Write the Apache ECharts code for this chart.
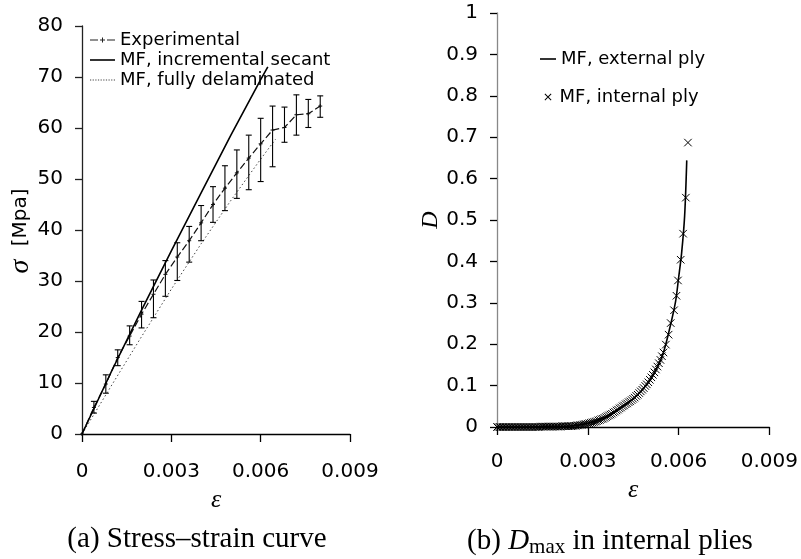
<!DOCTYPE html>
<html>
<head>
<meta charset="utf-8">
<script src="https://cdn.jsdelivr.net/npm/echarts@6/dist/echarts.min.js"></script>
<style>
html,body{margin:0;padding:0;background:#fff;}
#chart{width:801px;height:559px;}
</style>
</head>
<body>
<div id="chart"></div>
<script>
// ---- (a) Stress-strain data ----
const expStrain = [0,0.0004,0.0008,0.0012,0.0016,0.0020,0.0024,0.0028,0.0032,0.0036,0.0040,0.0044,0.0048,0.0052,0.0056,0.0060,0.0064,0.0068,0.0072,0.0076,0.0080];
const expStress = [0,5.2,9.8,15.0,19.2,23.5,27.4,31.3,34.7,37.9,41.4,45.0,48.2,51.2,54.1,56.9,59.6,60.1,62.6,62.8,64.3];
const expLow    = [0,4.1,8.0,13.4,17.5,20.8,22.8,27.0,30.1,33.7,37.9,41.5,43.8,46.2,47.9,49.5,52.4,57.2,58.6,60.1,62.1];
const expHigh   = [0,6.4,11.6,16.5,21.2,26.0,30.2,34.0,37.5,40.7,44.8,48.5,52.6,55.7,58.6,61.9,64.3,64.1,66.5,65.6,66.3];

const secStrain = [0,0.001,0.002,0.003,0.004,0.005,0.006,0.00624];
const secStress = [0,12.4,24.3,35.9,47.3,58.6,69.5,72.0];

const delStrain = [0,0.001,0.002,0.003,0.004,0.005,0.006,0.0065];
const delStress = [0,9.6,19.1,28.4,37.3,45.8,53.9,57.8];

// ---- (b) Damage data ----
const intStrain = [
  0,0.00005,0.0001,0.00015,0.0002,0.00025,0.0003,0.00035,0.0004,0.00045,
  0.0005,0.00055,0.0006,0.00065,0.0007,0.00075,0.0008,0.00085,0.0009,0.00095,
  0.0010,0.00105,0.0011,0.00115,0.0012,0.00125,0.0013,0.00135,0.0014,0.00145,
  0.0015,0.00155,0.0016,0.00165,0.0017,0.00175,0.0018,0.00185,0.0019,0.00195,
  0.0020,0.00205,0.0021,0.00215,0.0022,0.00225,0.0023,0.00235,0.0024,0.00245,
  0.0025,0.00255,0.0026,0.00265,0.0027,0.00275,0.0028,0.00285,0.0029,0.00295,
  0.0030,0.00305,0.0031,0.00315,0.0032,0.00325,0.0033,0.00335,0.0034,0.00345,
  0.0035,0.00355,0.0036,0.00365,0.0037,0.00375,0.0038,0.00385,0.0039,0.00395,
  0.0040,0.00405,0.0041,0.00415,0.0042,0.00425,0.0043,0.00435,0.0044,0.00445,
  0.0045,0.00455,0.0046,0.00465,0.0047,0.00475,0.0048,0.00485,0.0049,0.00495,
  0.0050,0.00505,0.0051,0.00515,0.0052,0.00525,0.0053,0.00535,0.0054,0.00545,
  0.0055,0.00558,0.00567,0.00574,0.00585,0.00593,0.00598,0.00607,0.00615,0.00624,0.00631];
const intDamage = [
  0,0,0,0,0,0,0,0,0,0,
  0,0,0,0,0,0,0,0,0,0,
  0,0,0,0,0,0,0,0,0,0.001,
  0.001,0.001,0.001,0.001,0.001,0.001,0.001,0.001,0.001,0.001,
  0.001,0.001,0.001,0.002,0.002,0.002,0.002,0.002,0.002,0.002,
  0.002,0.003,0.003,0.004,0.004,0.005,0.005,0.006,0.007,0.007,
  0.008,0.009,0.010,0.011,0.012,0.013,0.014,0.016,0.017,0.019,
  0.020,0.022,0.024,0.026,0.028,0.030,0.032,0.035,0.037,0.040,
  0.042,0.045,0.047,0.050,0.052,0.055,0.057,0.060,0.062,0.065,
  0.068,0.071,0.075,0.078,0.082,0.086,0.090,0.094,0.099,0.103,
  0.108,0.114,0.120,0.126,0.132,0.139,0.146,0.154,0.162,0.171,
  0.180,0.199,0.223,0.251,0.282,0.317,0.354,0.404,0.467,0.554,0.687];

const extStrain = [0,0.001,0.002,0.0025,0.003,0.0035,0.004,0.0045,0.005,0.0053,0.0055,0.0057,0.0059,0.0060,0.0061,0.0062,0.00627];
const extDamage = [0,0,0.001,0.003,0.009,0.021,0.042,0.068,0.107,0.145,0.180,0.236,0.303,0.36,0.42,0.51,0.644];

function zip(a,b){return a.map((v,i)=>[v,b[i]]);}
const fmtX = v => (Math.abs(v) < 1e-12 ? '0' : v.toFixed(3));

const sans = 'DejaVu Sans';
const chart = echarts.init(document.getElementById('chart'), null, {renderer:'canvas'});

const crossSym = 'path://M0,5L10,5M5,0L5,10';
const xSym = 'path://M0,0L10,10M10,0L0,10';

// legend icon shapes (drawn as thin filled rectangles)
const iconSolid25 = 'path://M0,0H25V1.6H0Z';
const iconSolid16 = 'path://M0,0H16V1.6H0Z';
const iconExp = 'path://M0,2H8V3H0Z M17,2H25V3H17Z M10,2H15V3H10Z M12,0H13V5H12Z';
const iconX = 'path://M0,0.7L0.7,0L7,6.3L6.3,7Z M6.3,0L7,0.7L0.7,7L0,6.3Z';
let dots = '';
for (let x = 0; x < 25; x += 2.6) { dots += 'M' + x.toFixed(2) + ',0H' + (x + 1.2).toFixed(2) + 'V1.2H' + x.toFixed(2) + 'Z '; }
const iconDot = 'path://' + dots;

const option = {
  backgroundColor:'#fff',
  animation:false,
  grid:[
    {left:82, top:26, width:268, height:408},
    {left:497, top:13, width:274, height:414}
  ],
  graphic:[
    {type:'text', x:21, y:231, rotation:Math.PI/2, silent:true,
     style:{text:'{s|σ}    {m|[Mpa]}', align:'center', verticalAlign:'middle',
       rich:{
         s:{fontFamily:'Liberation Serif', fontStyle:'italic', fontSize:28, fill:'#000'},
         m:{fontFamily:sans, fontSize:20, fill:'#000'}
       }}}
  ],
  xAxis:[
    {gridIndex:0, type:'value', min:0, max:0.009, interval:0.003,
     name:'ε', nameLocation:'middle', nameGap:50,
     nameTextStyle:{fontFamily:'Liberation Serif', fontStyle:'italic', fontSize:26, color:'#000'},
     axisLine:{lineStyle:{color:'#000', width:1.3}},
     axisTick:{length:8, lineStyle:{color:'#000', width:1.3}},
     axisLabel:{margin:28, color:'#000', fontFamily:sans, fontSize:20, formatter:fmtX},
     splitLine:{show:false}},
    {gridIndex:1, type:'value', min:0, max:0.009, interval:0.003,
     name:'ε', nameLocation:'middle', nameGap:43,
     nameTextStyle:{fontFamily:'Liberation Serif', fontStyle:'italic', fontSize:26, color:'#000'},
     axisLine:{lineStyle:{color:'#000', width:1.3}},
     axisTick:{length:8, lineStyle:{color:'#000', width:1.3}},
     axisLabel:{margin:25, color:'#000', fontFamily:sans, fontSize:20, formatter:fmtX},
     splitLine:{show:false}}
  ],
  yAxis:[
    {gridIndex:0, type:'value', min:0, max:80, interval:10,
     axisLine:{lineStyle:{color:'#222', width:1.3}},
     axisTick:{length:7, lineStyle:{color:'#222', width:1.3}},
     axisLabel:{margin:19, color:'#000', fontFamily:sans, fontSize:20},
     splitLine:{show:false}},
    {gridIndex:1, type:'value', min:0, max:1, interval:0.1,
     name:'D', nameLocation:'middle', nameGap:53, nameRotate:90,
     nameTextStyle:{fontFamily:'Liberation Serif', fontStyle:'italic', fontSize:24, color:'#000'},
     axisLine:{lineStyle:{color:'#888', width:1.3}},
     axisTick:{length:7, lineStyle:{color:'#000', width:1.3}},
     axisLabel:{margin:19, color:'#000', fontFamily:sans, fontSize:20,
       formatter: v => (Math.abs(v) < 1e-9 ? '0' : (Math.abs(v-1)<1e-9 ? '1' : v.toFixed(1)))},
     splitLine:{show:false}}
  ],
  legend:[
    {orient:'vertical', left:90, top:31, padding:0, itemWidth:25, itemHeight:14, itemGap:2,
     textStyle:{fontFamily:sans, fontSize:18, color:'#000'},
     itemStyle:{borderWidth:0},
     data:[
       {name:'Experimental', icon:iconExp, itemStyle:{color:'#222', borderWidth:0}},
       {name:'MF, incremental secant', icon:iconSolid25, itemStyle:{color:'#000', borderWidth:0}},
       {name:'MF, fully delaminated', icon:iconDot, itemStyle:{color:'#444', borderWidth:0}}
     ]},
    {orient:'vertical', left:540, top:50, padding:0, itemWidth:16, itemHeight:14,
     textStyle:{fontFamily:sans, fontSize:18, color:'#000'},
     data:[{name:'MF, external ply', icon:iconSolid16, itemStyle:{color:'#000', borderWidth:0}}]},
    {orient:'vertical', left:544.5, top:88, padding:0, itemWidth:7, itemHeight:7,
     textStyle:{fontFamily:sans, fontSize:18, color:'#000', padding:[0,0,0,3]},
     data:[{name:'MF, internal ply', icon:iconX, itemStyle:{color:'#000', borderWidth:0}}]}
  ],
  title:[
    {text:'(a) Stress–strain curve', left:192, top:520, textAlign:'center',
     textStyle:{fontFamily:'Liberation Serif', fontWeight:'normal', fontSize:29, color:'#000'}},
    {text:'(b) {i|D}{sub|max} in internal plies', left:605, top:520, textAlign:'center',
     textStyle:{fontFamily:'Liberation Serif', fontWeight:'normal', fontSize:29, color:'#000',
       rich:{
         i:{fontFamily:'Liberation Serif', fontStyle:'italic', fontSize:29, color:'#000'},
         sub:{fontFamily:'Liberation Serif', fontSize:21, color:'#000', verticalAlign:'bottom', padding:[12,0,0,0]}
       }}}
  ],
  series:[
    {name:'MF, fully delaminated', type:'line', xAxisIndex:0, yAxisIndex:0,
     data:zip(delStrain, delStress), showSymbol:false, symbol:'none',
     lineStyle:{color:'#444', width:1, type:[1.5,2.5]}, itemStyle:{color:'#444'}, z:2},
    {name:'errbars', type:'custom', xAxisIndex:0, yAxisIndex:0,
     data: expStrain.map((x,i)=>[x, expLow[i], expHigh[i]]).filter(d=>d[2]>d[1]),
     renderItem:function(params, api){
       const x = api.value(0), lo = api.value(1), hi = api.value(2);
       const a = api.coord([x, lo]), b = api.coord([x, hi]);
       const w = 3;
       const st = {stroke:'#000', lineWidth:1.1};
       return {type:'group', children:[
         {type:'line', shape:{x1:a[0], y1:a[1], x2:b[0], y2:b[1]}, style:st},
         {type:'line', shape:{x1:a[0]-w, y1:a[1], x2:a[0]+w, y2:a[1]}, style:st},
         {type:'line', shape:{x1:b[0]-w, y1:b[1], x2:b[0]+w, y2:b[1]}, style:st}
       ]};
     }, z:3},
    {name:'Experimental', type:'line', xAxisIndex:0, yAxisIndex:0,
     data:zip(expStrain, expStress), symbol:crossSym, symbolSize:4, showSymbol:true,
     lineStyle:{color:'#111', width:1.2, type:[7,3]},
     itemStyle:{color:'#111', borderColor:'#111', borderWidth:1}, z:4},
    {name:'MF, incremental secant', type:'line', xAxisIndex:0, yAxisIndex:0,
     data:zip(secStrain, secStress), showSymbol:false, symbol:'none',
     lineStyle:{color:'#000', width:1.6}, itemStyle:{color:'#000'}, z:5},
    {name:'MF, external ply', type:'line', xAxisIndex:1, yAxisIndex:1,
     data:zip(extStrain, extDamage), showSymbol:false, symbol:'none', smooth:0.3,
     lineStyle:{color:'#000', width:1.6}, itemStyle:{color:'#000'}, z:5},
    {name:'MF, internal ply', type:'scatter', xAxisIndex:1, yAxisIndex:1,
     data:zip(intStrain, intDamage), symbol:xSym, symbolSize:7.5,
     itemStyle:{color:'none', borderColor:'#000', borderWidth:1, opacity:1}, z:4}
  ]
};
chart.setOption(option);
</script>
</body>
</html>
